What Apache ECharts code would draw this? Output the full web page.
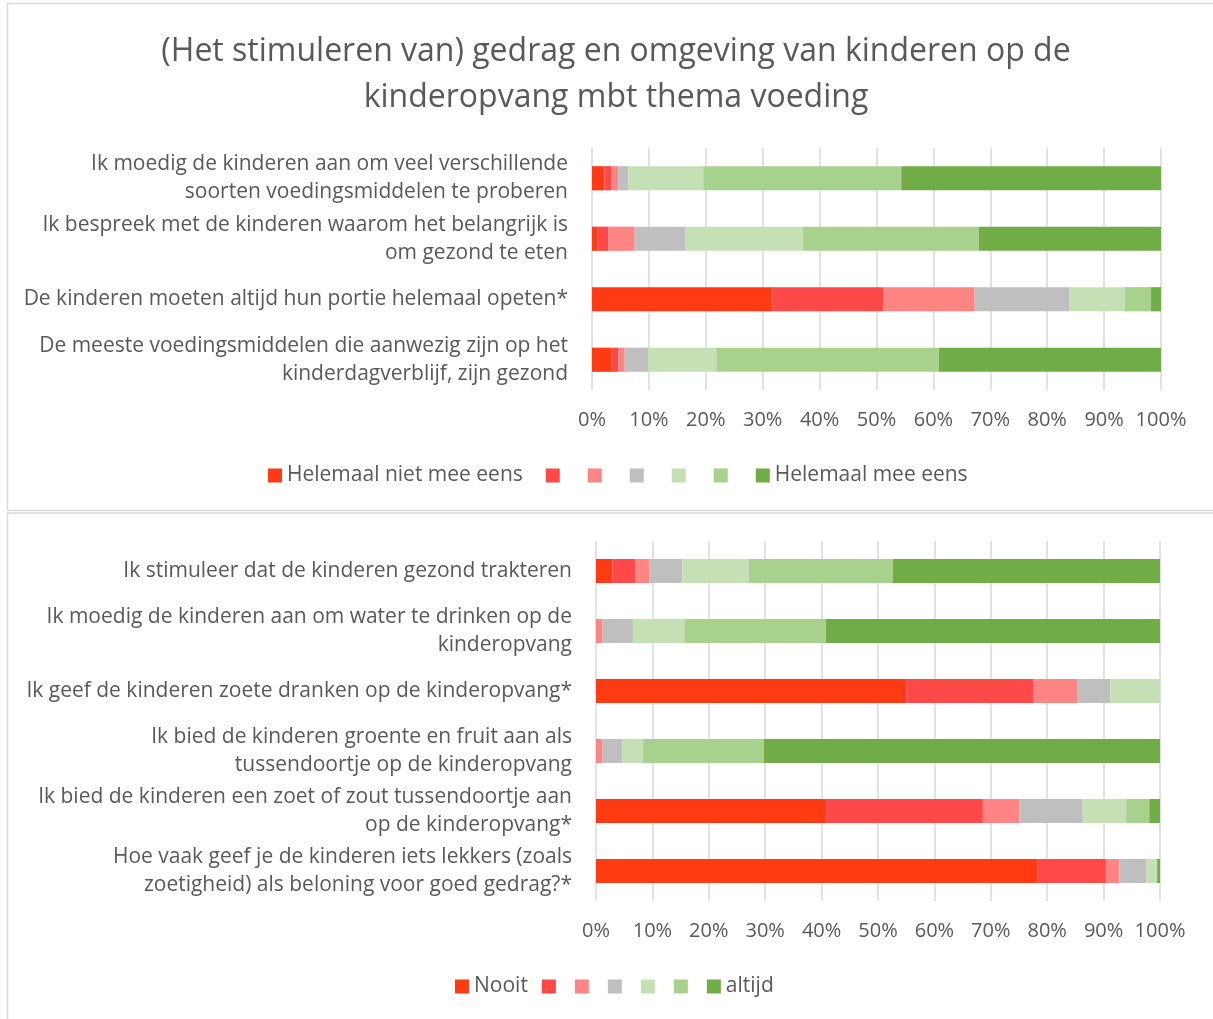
<!DOCTYPE html>
<html>
<head>
<meta charset="utf-8">
<script src="https://cdn.jsdelivr.net/npm/echarts@6/dist/echarts.min.js"></script>
<style>
  html, body { margin: 0; padding: 0; background: #fff; }
  #main { width: 1213px; height: 1019px; }
</style>
</head>
<body>
<div id="main"></div>
<script>
// 上图：类别（从上到下）
var topCats = [
  "Ik moedig de kinderen aan om veel verschillende\nsoorten voedingsmiddelen te proberen",
  "Ik bespreek met de kinderen waarom het belangrijk is\nom gezond te eten",
  "De kinderen moeten altijd hun portie helemaal opeten*",
  "De meeste voedingsmiddelen die aanwezig zijn op het\nkinderdagverblijf, zijn gezond"
];
var topNames = ["Helemaal niet mee eens", "t2", "t3", "t4", "t5", "t6", "Helemaal mee eens"];
var top1 = [2.2, 1.0, 31.75, 3.4];
var top2 = [1.2, 1.9, 19.5, 1.2];
var top3 = [1.2, 4.6, 16.0, 1.15];
var top4 = [1.75, 8.9, 16.7, 4.1];
var top5 = [13.2, 20.7, 9.7, 12.0];
var top6 = [34.8, 30.9, 4.6, 39.1];
var top7 = [45.65, 32.0, 1.75, 39.05];

// 下图
var botCats = [
  "Ik stimuleer dat de kinderen gezond trakteren",
  "Ik moedig de kinderen aan om water te drinken op de\nkinderopvang",
  "Ik geef de kinderen zoete dranken op de kinderopvang*",
  "Ik bied de kinderen groente en fruit aan als\ntussendoortje op de kinderopvang",
  "Ik bied de kinderen een zoet of zout tussendoortje aan\nop de kinderopvang*",
  "Hoe vaak geef je de kinderen iets lekkers (zoals\nzoetigheid) als beloning voor goed gedrag?*"
];
var botNames = ["Nooit", "b2", "b3", "b4", "b5", "b6", "altijd"];
var bot1 = [2.9, 0, 55.0, 0, 40.8, 78.3];
var bot2 = [4.1, 0, 22.5, 0, 27.8, 12.1];
var bot3 = [2.5, 1.15, 7.8, 1.15, 6.5, 2.4];
var bot4 = [5.8, 5.4, 5.9, 3.5, 11.2, 4.8];
var bot5 = [11.8, 9.1, 8.8, 3.7, 7.7, 1.8];
var bot6 = [25.5, 25.1, 0, 21.4, 4.1, 0.1];
var bot7 = [47.4, 59.25, 0, 70.25, 1.9, 0.5];

var colors = ["#FF3B14", "#FF4949", "#FF8585", "#BFBFBF", "#C5E0B4", "#A9D18E", "#70AD47"];
var FONT = "'Open Sans', 'Noto Sans', sans-serif";
var TXT = "#595959";

var topVals = [top1, top2, top3, top4, top5, top6, top7];
var botVals = [bot1, bot2, bot3, bot4, bot5, bot6, bot7];

var series = [];
topVals.forEach(function (d, i) {
  series.push({
    name: topNames[i], type: "bar", stack: "top", xAxisIndex: 0, yAxisIndex: 0,
    barCategoryGap: "60%", data: d, itemStyle: { color: colors[i] },
    emphasis: { disabled: true }
  });
});
botVals.forEach(function (d, i) {
  series.push({
    name: botNames[i], type: "bar", stack: "bot", xAxisIndex: 1, yAxisIndex: 1,
    barCategoryGap: "60%", data: d, itemStyle: { color: colors[i] },
    emphasis: { disabled: true }
  });
});

function xAx(gi) {
  return {
    type: "value", gridIndex: gi, min: 0, max: 100, interval: 10,
    axisLine: { show: false }, axisTick: { show: false },
    splitLine: { lineStyle: { color: "#D9D9D9", width: 1.5 } },
    axisLabel: { formatter: "{value}%", color: TXT, fontSize: 20, fontFamily: FONT, margin: 20 }
  };
}
function yAx(gi, cats) {
  return {
    type: "category", gridIndex: gi, data: cats, inverse: true,
    axisLine: { show: false }, axisTick: { show: false },
    axisLabel: { color: TXT, fontSize: 21, fontFamily: FONT, margin: 24, lineHeight: 28, align: "right" }
  };
}
// 中间几项图例不显示文字
function legendFmt(name) {
  return (name === topNames[0] || name === topNames[6] || name === botNames[0] || name === botNames[6]) ? name : "\u200B";
}

var chart = echarts.init(document.getElementById("main"));
chart.setOption({
  animation: false,
  title: {
    text: "(Het stimuleren van) gedrag en omgeving van kinderen op de\nkinderopvang mbt thema voeding",
    left: 611, top: 24, textAlign: "center",
    textStyle: { color: TXT, fontSize: 32, fontWeight: "normal", fontFamily: FONT, lineHeight: 46 }
  },
  graphic: [
    { type: "rect", shape: { x: 7.5, y: 3.5, width: 1230, height: 507 }, style: { fill: "none", stroke: "#D9D9D9", lineWidth: 1.5 }, silent: true },
    { type: "rect", shape: { x: 7.5, y: 513, width: 1230, height: 530 }, style: { fill: "none", stroke: "#D9D9D9", lineWidth: 1.5 }, silent: true }
  ],
  grid: [
    { left: 592, width: 569, top: 148, height: 242 },
    { left: 596, width: 564, top: 541, height: 360 }
  ],
  xAxis: [xAx(0), xAx(1)],
  yAxis: [yAx(0, topCats), yAx(1, botCats)],
  legend: [
    {
      data: topNames, left: 263, top: 460, itemWidth: 14, itemHeight: 14, itemGap: 23,
      icon: "rect", formatter: legendFmt, selectedMode: false,
      textStyle: { color: TXT, fontSize: 21, fontFamily: FONT }
    },
    {
      data: botNames, left: 450, top: 971, itemWidth: 14, itemHeight: 14, itemGap: 14,
      icon: "rect", formatter: legendFmt, selectedMode: false,
      textStyle: { color: TXT, fontSize: 21, fontFamily: FONT }
    }
  ],
  series: series
});
</script>
</body>
</html>
